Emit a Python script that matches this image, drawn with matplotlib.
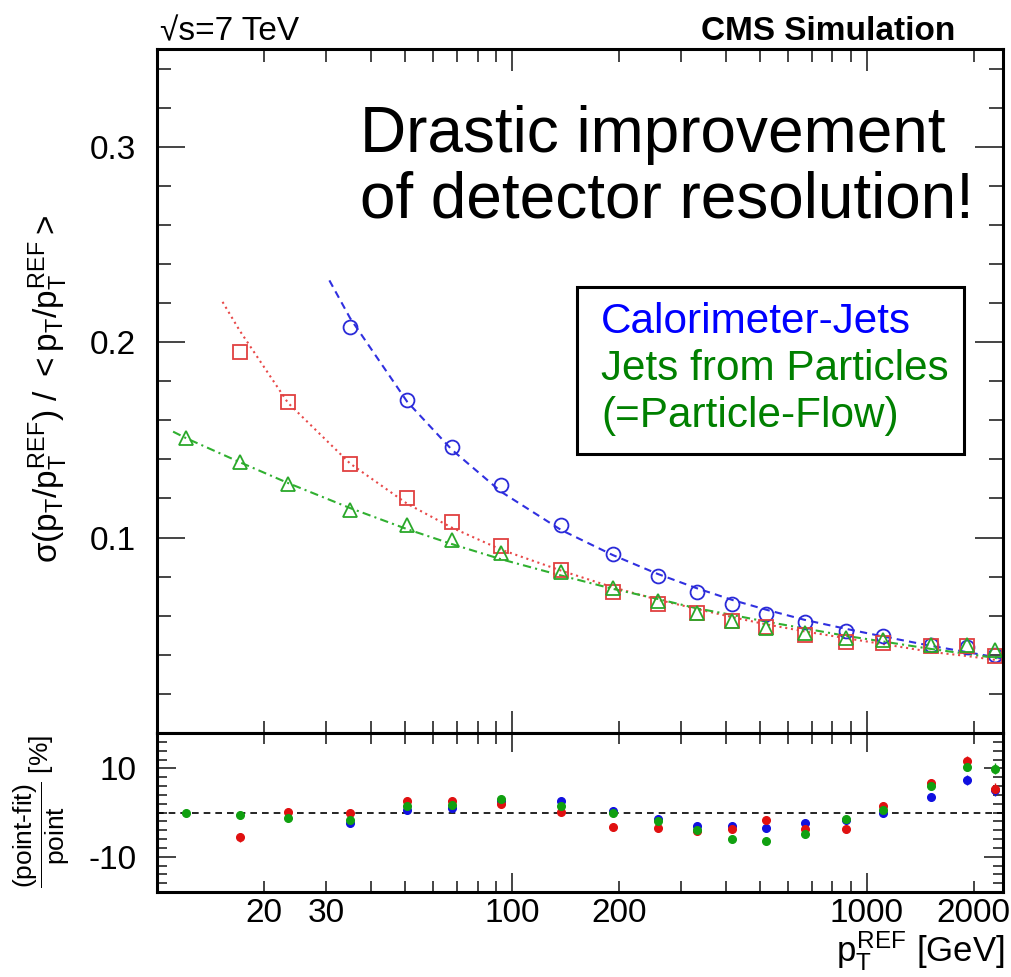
import matplotlib
matplotlib.use("Agg")
import matplotlib.pyplot as plt
from matplotlib.patches import Rectangle
from matplotlib.ticker import FixedLocator, FuncFormatter, MultipleLocator

plt.rcParams["font.family"] = ["Liberation Sans", "DejaVu Sans"]
plt.rcParams["mathtext.fontset"] = "custom"
plt.rcParams["mathtext.rm"] = "Liberation Sans"
plt.rcParams["mathtext.it"] = "Liberation Sans"
plt.rcParams["mathtext.bf"] = "Liberation Sans:bold"
plt.rcParams["mathtext.sf"] = "Liberation Sans"
plt.rcParams["axes.unicode_minus"] = False

# pT^REF bin centres [GeV]
pt = [12.1, 17.1, 23.4, 35.0, 50.7, 67.7, 93.3, 137.6, 192.2, 257.5,
      331.6, 417.5, 520.4, 668, 874, 1112, 1518, 1913, 2303]

# resolution points (calo starts at bin 3, jpt at bin 1, pf at bin 0)
calo_res = [0.2075, 0.1704, 0.1466, 0.1267, 0.1066, 0.0915, 0.0803, 0.0719,
            0.0661, 0.0609, 0.0566, 0.0523, 0.0498, 0.0450, 0.0442, 0.0400]
jpt_res = [0.1950, 0.1692, 0.1379, 0.1204, 0.1078, 0.0957, 0.0833, 0.0722, 0.0660,
           0.0612, 0.0574, 0.0544, 0.0501, 0.0467, 0.0463, 0.0445, 0.0447, 0.0394]
pf_res = [0.1508, 0.1386, 0.1272, 0.1139, 0.1063, 0.0987, 0.0921, 0.0824, 0.0741, 0.0675,
          0.0614, 0.0574, 0.0539, 0.0512, 0.0485, 0.0478, 0.0452, 0.0450, 0.0425]

# fitted resolution curves
calo_fit_pt = [30.6, 35.0, 50.7, 67.7, 93.3, 137.6, 192.2, 257.5, 331.6, 417.5,
               520.4, 668, 874, 1112, 1518, 1913, 2303, 2420]
calo_fit = [0.2316, 0.2123, 0.1695, 0.1450, 0.1234, 0.1039, 0.0911, 0.0814, 0.0741,
            0.0681, 0.0631, 0.0579, 0.0533, 0.0494, 0.0446, 0.0414, 0.0388, 0.0381]
jpt_fit_pt = [15.3, 17.1, 23.4, 35.0, 50.7, 67.7, 93.3, 137.6, 192.2, 257.5,
              331.6, 417.5, 520.4, 668, 874, 1112, 1518, 1913, 2303, 2420]
jpt_fit = [0.2206, 0.2059, 0.1689, 0.1379, 0.1173, 0.1051, 0.0938, 0.0831, 0.0746, 0.0682,
           0.0635, 0.0593, 0.0556, 0.0520, 0.0485, 0.0455, 0.0415, 0.0394, 0.0374, 0.0368]
pf_fit_pt = [11.1, 12.1, 17.1, 23.4, 35.0, 50.7, 67.7, 93.3, 137.6, 192.2, 257.5,
             331.6, 417.5, 520.4, 668, 874, 1112, 1518, 1913, 2303, 2420]
pf_fit = [0.1542, 0.1508, 0.1386, 0.1279, 0.1151, 0.1043, 0.0967, 0.0889, 0.0806, 0.0738,
          0.0686, 0.0638, 0.0604, 0.0570, 0.0535, 0.0497, 0.0468, 0.0430, 0.0405, 0.0384, 0.0379]

# (point - fit) / point in %
calo_dev = [-2.3, 0.5, 1.1, 2.6, 2.5, 0.4, -1.4, -3.0, -3.0, -3.6, -2.3, -1.6, -0.2, 3.4, 7.3, 5.0]
calo_dev_err = [0.5, 0.5, 0.5, 0.5, 0.5, 0.5, 0.5, 0.5, 0.5, 0.5, 0.6, 0.6, 0.7, 0.8, 1.1, 1.2]
jpt_dev = [-5.6, 0.2, 0.0, 2.6, 2.5, 2.0, 0.2, -3.3, -3.4, -4.2, -3.8, -1.6, -3.8, -3.8,
           1.4, 6.7, 11.6, 5.4]
jpt_dev_err = [1.0, 0.6, 0.5, 0.5, 0.5, 0.5, 0.5, 0.5, 0.5, 0.5, 0.5, 0.5, 0.6, 0.7,
               0.8, 0.9, 1.1, 1.3]
pf_dev = [0.0, -0.5, -1.3, -1.8, 1.4, 1.8, 3.1, 1.4, 0.0, -2.0, -3.9, -5.9, -6.4, -4.8,
          -1.4, 0.6, 6.0, 10.4, 9.9]
pf_dev_err = [0.5, 0.6, 0.6, 0.5, 0.5, 0.5, 0.5, 0.5, 0.5, 0.5, 0.5, 0.5, 0.5, 0.6,
              0.7, 0.8, 0.9, 1.0, 1.2]

x_labels = [20, 30, 100, 200, 1000, 2000]

W, H = 1011, 977


def fx(px):
    return px / W


def fy(py):
    return 1 - py / H


fig = plt.figure(figsize=(W / 100, H / 100), dpi=100)
ax = fig.add_axes([fx(157), fy(733), fx(1003) - fx(157), fy(49) - fy(733)])
axr = fig.add_axes([fx(157), fy(892), fx(1003) - fx(157), fy(733) - fy(892)], sharex=ax)

# --- main panel -------------------------------------------------------------
ax.plot(calo_fit_pt, calo_fit, color="#3030e0", lw=1.5, ls=(0, (3.5, 2.5)))
ax.plot(jpt_fit_pt, jpt_fit, color="#e84848", lw=1.5, ls=(0, (1, 1.8)))
ax.plot(pf_fit_pt, pf_fit, color="#30b030", lw=1.5, ls=(0, (4, 2, 1, 2)))

ax.plot(pt[3:], calo_res, "o", ms=10, mfc="none", mec="#2a2ad8", mew=1.3)
ax.plot(pt[1:], jpt_res, "s", ms=10, mfc="none", mec="#e04040", mew=1.3)
ax.plot(pt, pf_res, "^", ms=10.5, mfc="none", mec="#2aa82a", mew=1.3)

ax.set_xscale("log")
ax.set_xlim(10, 2420)
ax.set_ylim(0, 0.35)
ax.yaxis.set_major_locator(FixedLocator([0.1, 0.2, 0.3]))
ax.yaxis.set_minor_locator(MultipleLocator(0.02))
ax.yaxis.set_major_formatter(FuncFormatter(lambda v, _: f"{v:.1f}"))
ax.tick_params(axis="x", which="both", labelbottom=False)
ax.tick_params(which="both", direction="in", top=True, right=True, color="#444444", width=1.4)
ax.tick_params(axis="y", which="major", length=20, labelsize=24, pad=15)
ax.tick_params(axis="y", which="minor", length=10)
ax.tick_params(axis="x", which="major", length=16)
ax.tick_params(axis="x", which="minor", length=9)

# --- ratio panel ------------------------------------------------------------
axr.axhline(0, color="black", lw=1.2, ls=(0, (4, 3)))
axr.errorbar(pt[3:], calo_dev, yerr=calo_dev_err, fmt="o", ms=5.5, color="#1010e0",
             elinewidth=1, capsize=0)
axr.errorbar(pt[1:], jpt_dev, yerr=jpt_dev_err, fmt="o", ms=5.5, color="#e01010",
             elinewidth=1, capsize=0)
axr.errorbar(pt, pf_dev, yerr=pf_dev_err, fmt="o", ms=5.5, color="#10a010",
             elinewidth=1, capsize=0)

axr.set_ylim(-18, 18)
axr.yaxis.set_major_locator(FixedLocator([-10, 10]))
axr.yaxis.set_minor_locator(MultipleLocator(2))
axr.xaxis.set_major_locator(FixedLocator([10, 100, 1000]))
axr.xaxis.set_minor_locator(FixedLocator([m * d for d in (10, 100, 1000) for m in range(2, 10)]))
lab = FuncFormatter(lambda v, _: f"{v:.0f}" if round(v) in x_labels else "")
axr.xaxis.set_major_formatter(lab)
axr.xaxis.set_minor_formatter(lab)
axr.tick_params(which="both", direction="in", top=True, right=True, color="#444444", width=1.4)
axr.tick_params(axis="y", which="major", length=14, labelsize=24, pad=15)
axr.tick_params(axis="y", which="minor", length=7)
axr.tick_params(axis="x", which="major", length=14, labelsize=24, pad=4)
axr.tick_params(axis="x", which="minor", length=8, labelsize=24, pad=4)
axr.set_xlim(10, 2420)

for a in (ax, axr):
    for s in a.spines.values():
        s.set_linewidth(2.2)

# --- labels and annotations -------------------------------------------------
fig.text(fx(48), fy(389), r"$\sigma(p_T/p_T^{REF})\ /\ <p_T/p_T^{REF}>$",
         rotation=90, ha="center", va="center", fontsize=24)
fig.text(fx(42), fy(812), r"$\dfrac{\text{(point-fit)}}{\text{point}}\ [\%]$",
         rotation=90, ha="center", va="center", fontsize=19)
fig.text(fx(1005), fy(961), r"$p_T^{REF}$ [GeV]", ha="right", va="baseline", fontsize=25)

fig.text(fx(160), fy(40), "\u221as=7 TeV", ha="left", va="baseline", fontsize=24)
fig.text(fx(955), fy(40), "CMS Simulation", ha="right", va="baseline", fontsize=24,
         fontweight="bold")

fig.text(fx(360), fy(152), "Drastic improvement", ha="left", va="baseline", fontsize=46)
fig.text(fx(360), fy(218), "of detector resolution!", ha="left", va="baseline", fontsize=46)

fig.add_artist(Rectangle((fx(577), fy(454)), fx(964) - fx(577), fy(287) - fy(454),
                         transform=fig.transFigure, fill=False, ec="black", lw=2.2))
fig.text(fx(601), fy(333), "Calorimeter-Jets", color="#0000ff", va="baseline", fontsize=30.4)
fig.text(fx(601), fy(380), "Jets from Particles", color="#008000", va="baseline", fontsize=30.4)
fig.text(fx(601), fy(427), "(=Particle-Flow)", color="#008000", va="baseline", fontsize=30.4)

fig.savefig("out.png", dpi=100)
